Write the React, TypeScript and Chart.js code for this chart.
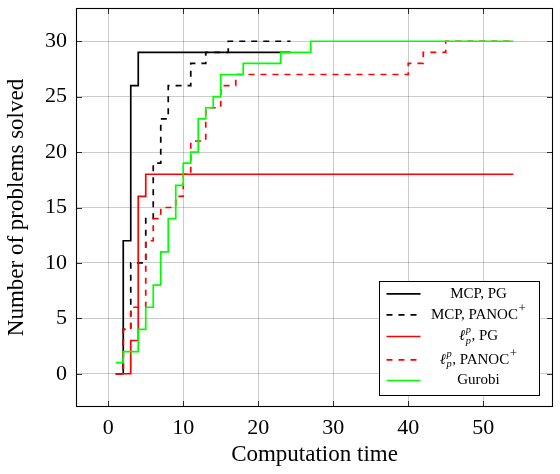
import React, { useEffect, useRef } from "react";
import { Chart, registerables } from "chart.js";

Chart.register(...registerables);

// Computation time at which each solved count is reached (const/step plots)
const mcpPgTime = [1, 2, 3, 4, 24.3];
const mcpPgSolved = [0, 12, 26, 29, 29];

const mcpPanocTime = [1, 2, 3, 5, 6, 7, 8, 11, 13, 16, 24.3];
const mcpPanocSolved = [0, 4, 10, 14, 19, 23, 26, 28, 29, 30, 30];

const lpPgTime = [1, 3, 4, 5, 54];
const lpPgSolved = [0, 3, 16, 18, 18];

const lpPanocTime = [1, 2, 3, 5, 6, 7, 9, 10, 11, 13, 15, 17, 40, 42, 45, 54];
const lpPanocSolved = [0, 4, 6, 12, 14, 15, 16, 18, 21, 24, 26, 27, 28, 29, 30, 30];

const gurobiTime = [1, 2, 4, 5, 6, 7, 8, 9, 10, 11, 12, 13, 14, 15, 18, 23, 27, 54];
const gurobiSolved = [1, 2, 4, 6, 8, 11, 14, 17, 19, 20, 23, 24, 25, 27, 28, 29, 30, 30];

const xTickValues = [0, 10, 20, 30, 40, 50];
const yTickValues = [0, 5, 10, 15, 20, 25, 30];

const seriesLabels = ["MCP, PG", "MCP, PANOC^+", "ℓ_p^p, PG", "ℓ_p^p, PANOC^+", "Gurobi"];
const seriesColors = ["#000000", "#000000", "#ff0000", "#ff0000", "#00ff00"];
const seriesDashed = [false, true, false, true, false];

const SERIF = "'Liberation Serif', 'DejaVu Serif', serif";
const DASH = [6, 6];
const LINE_W = 1.7;

const toPoints = (xs: number[], ys: number[]) => xs.map((x, i) => ({ x, y: ys[i] }));

type Run = { text: string; kind: "base" | "italic" | "sup" | "stack"; sub?: string };

function parseLabel(s: string): Run[] {
  const runs: Run[] = [];
  let buf = "";
  const flush = () => {
    if (buf) {
      runs.push({ text: buf, kind: "base" });
      buf = "";
    }
  };
  let i = 0;
  while (i < s.length) {
    const c = s[i];
    if (c === "ℓ") {
      flush();
      runs.push({ text: c, kind: "italic" });
      i += 1;
    } else if (c === "_" && s[i + 2] === "^") {
      flush();
      runs.push({ text: s[i + 3], sub: s[i + 1], kind: "stack" });
      i += 4;
    } else if (c === "^") {
      flush();
      runs.push({ text: s[i + 1], kind: "sup" });
      i += 2;
    } else {
      buf += c;
      i += 1;
    }
  }
  flush();
  return runs;
}

function drawRichLabel(ctx: CanvasRenderingContext2D, label: string, cx: number, cy: number, size: number) {
  const runs = parseLabel(label);
  const small = size * 0.7;
  const plusFont = `${size * 0.85}px ${SERIF}`;
  const fontFor = (k: Run["kind"]) =>
    k === "italic" ? `italic ${size}px ${SERIF}` : k === "base" ? `${size}px ${SERIF}` : `italic ${small}px ${SERIF}`;
  const widthOf = (r: Run) => {
    if (r.kind === "sup" && r.text === "+") {
      ctx.font = plusFont;
      return ctx.measureText(r.text).width + 1;
    }
    ctx.font = fontFor(r.kind);
    const w = ctx.measureText(r.text).width;
    if (r.kind === "stack") return Math.max(w, ctx.measureText(r.sub || "").width) + 1;
    return w;
  };
  const total = runs.reduce((s, r) => s + widthOf(r), 0);
  let x = cx - total / 2;
  ctx.textBaseline = "middle";
  ctx.textAlign = "left";
  ctx.fillStyle = "#000";
  for (const r of runs) {
    const w = widthOf(r);
    if (r.kind === "sup") {
      ctx.font = r.text === "+" ? plusFont : fontFor(r.kind);
      ctx.fillText(r.text, x + 0.5, cy - size * 0.38);
    } else if (r.kind === "stack") {
      ctx.font = fontFor(r.kind);
      ctx.fillText(r.text, x + 0.5, cy - size * 0.4);
      ctx.fillText(r.sub || "", x + 0.5, cy + size * 0.3);
    } else {
      ctx.font = fontFor(r.kind);
      ctx.fillText(r.text, x, cy);
    }
    x += w;
  }
}

// Inward tick marks, the closed axis box and the south-east legend.
const axisBoxPlugin = {
  id: "axisBox",
  afterDatasetsDraw(chart: any) {
    const { ctx, chartArea: a, scales } = chart;
    const tickLen = 6;
    ctx.save();
    ctx.strokeStyle = "rgba(0,0,0,0.8)";
    ctx.lineWidth = 1;
    ctx.beginPath();
    for (const v of xTickValues) {
      const px = Math.round(scales.x.getPixelForValue(v)) + 0.5;
      ctx.moveTo(px, a.bottom);
      ctx.lineTo(px, a.bottom - tickLen);
      ctx.moveTo(px, a.top);
      ctx.lineTo(px, a.top + tickLen);
    }
    for (const v of yTickValues) {
      const py = Math.round(scales.y.getPixelForValue(v)) + 0.5;
      ctx.moveTo(a.left, py);
      ctx.lineTo(a.left + tickLen, py);
      ctx.moveTo(a.right, py);
      ctx.lineTo(a.right - tickLen, py);
    }
    ctx.stroke();
    ctx.strokeStyle = "#000";
    ctx.lineWidth = 1.1;
    ctx.strokeRect(a.left + 0.5, a.top + 0.5, a.right - a.left - 1, a.bottom - a.top - 1);

    // legend
    const boxW = 160;
    const boxH = 114;
    const right = a.right - 0.03 * (a.right - a.left);
    const bottom = a.bottom - 0.03 * (a.bottom - a.top);
    const left = Math.round(right - boxW) + 0.5;
    const top = Math.round(bottom - boxH) + 0.5;
    ctx.fillStyle = "#fff";
    ctx.fillRect(left, top, boxW, boxH);
    ctx.strokeStyle = "#000";
    ctx.lineWidth = 1;
    ctx.setLineDash([]);
    ctx.strokeRect(left, top, boxW, boxH);
    const rowOffsets = [12.3, 33.3, 55, 78.3, 99];
    seriesLabels.forEach((label, i) => {
      const y = top + rowOffsets[i];
      ctx.strokeStyle = seriesColors[i];
      ctx.lineWidth = LINE_W;
      ctx.setLineDash(seriesDashed[i] ? DASH : []);
      ctx.beginPath();
      ctx.moveTo(left + 7, y);
      ctx.lineTo(left + 41, y);
      ctx.stroke();
      ctx.setLineDash([]);
      drawRichLabel(ctx, label, left + 99, y, 15);
    });
    ctx.restore();
  },
};

export default function App() {
  const canvasRef = useRef<HTMLCanvasElement | null>(null);

  useEffect(() => {
    const canvas = canvasRef.current;
    if (!canvas) return;
    const series = [
      toPoints(mcpPgTime, mcpPgSolved),
      toPoints(mcpPanocTime, mcpPanocSolved),
      toPoints(lpPgTime, lpPgSolved),
      toPoints(lpPanocTime, lpPanocSolved),
      toPoints(gurobiTime, gurobiSolved),
    ];
    const chart = new Chart(canvas, {
      type: "line",
      data: {
        datasets: series.map((data, i) => ({
          label: seriesLabels[i],
          data,
          borderColor: seriesColors[i],
          backgroundColor: seriesColors[i],
          borderWidth: LINE_W,
          borderDash: seriesDashed[i] ? DASH : [],
          stepped: "before" as const,
          pointRadius: 0,
          fill: false,
          order: seriesLabels.length - i,
        })),
      },
      options: {
        responsive: false,
        animation: false,
        events: [],
        layout: { padding: { top: 8, right: 7, left: 0, bottom: 0 } },
        plugins: { legend: { display: false }, tooltip: { enabled: false } },
        scales: {
          x: {
            type: "linear",
            min: -4.3,
            max: 59.3,
            afterBuildTicks: (scale: any) => {
              scale.ticks = xTickValues.map((value) => ({ value }));
            },
            afterFit: (scale: any) => {
              scale.height = 67;
              scale.paddingLeft = 0;
              scale.paddingRight = 0;
            },
            border: { display: false },
            grid: { color: "rgba(0,0,0,0.2)", lineWidth: 1, drawTicks: false },
            ticks: {
              padding: 8,
              color: "#000",
              font: { family: SERIF, size: 22 },
              maxRotation: 0,
            },
            title: {
              display: true,
              text: "Computation time",
              color: "#000",
              font: { family: SERIF, size: 23 },
              padding: { top: 0, bottom: 5 },
            },
          },
          y: {
            type: "linear",
            min: -3,
            max: 33,
            afterBuildTicks: (scale: any) => {
              scale.ticks = yTickValues.map((value) => ({ value }));
            },
            afterFit: (scale: any) => {
              scale.width = 76;
              scale.paddingTop = 0;
              scale.paddingBottom = 0;
            },
            border: { display: false },
            grid: { color: "rgba(0,0,0,0.2)", lineWidth: 1, drawTicks: false },
            ticks: {
              padding: 9,
              color: "#000",
              font: { family: SERIF, size: 22 },
            },
            title: {
              display: true,
              text: "Number of problems solved",
              color: "#000",
              font: { family: SERIF, size: 23 },
              padding: { top: 3, bottom: 0 },
            },
          },
        },
      },
      plugins: [axisBoxPlugin],
    });
    return () => chart.destroy();
  }, []);

  return (
    <div style={{ position: "absolute", left: 0, top: 0, width: 560, height: 474, background: "#fff" }}>
      <canvas ref={canvasRef} width={560} height={474} style={{ display: "block", width: 560, height: 474 }} />
    </div>
  );
}
